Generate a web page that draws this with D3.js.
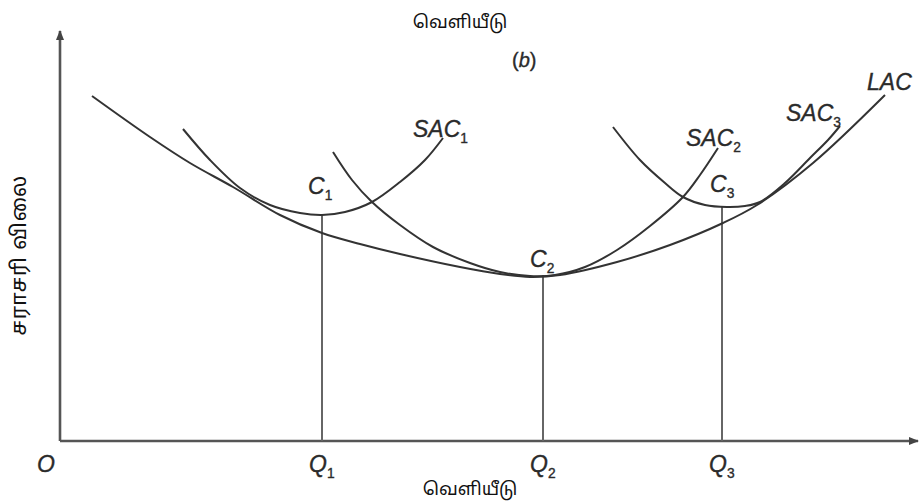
<!DOCTYPE html>
<html>
<head>
<meta charset="utf-8">
<script src="https://cdn.jsdelivr.net/npm/d3@7/dist/d3.min.js"></script>
<style>
html,body{margin:0;padding:0;background:#fff;}
svg{display:block;}
.lbl{font-family:"Liberation Sans",Arial,sans-serif;font-style:italic;fill:#2b2b2b;stroke:#2b2b2b;stroke-width:0.35;}
.ta{font-family:"Noto Sans Tamil","Lohit Tamil","Noto Sans",sans-serif;fill:#111;}
</style>
</head>
<body>
<script>
// Output (x) and average cost (y) in abstract units
const LAC  = [[3.2,34.5],[9.0,30.4],[13.0,27.8],[17.3,25.4],[22.0,22.6],[26.2,20.8],[30.0,19.7],[34.0,18.7],[40.0,17.4],[44.0,16.7],[47.0,16.4],[50.0,16.6],[55.7,17.9],[61.0,19.6],[66.3,21.8],[69.7,23.6],[75.3,27.8],[82.5,34.6]];
const SAC1 = [[12.3,31.2],[15.0,28.1],[18.0,25.3],[21.0,23.6],[24.0,22.8],[26.2,22.6],[28.5,22.9],[31.2,23.9],[34.0,25.9],[36.5,28.1],[38.3,30.3]];
const SAC2 = [[27.3,28.9],[29.2,26.1],[31.2,23.9],[34.0,21.6],[37.3,19.4],[41.0,17.8],[44.0,16.9],[47.0,16.5],[49.5,16.6],[52.5,17.4],[55.7,19.1],[59.0,21.5],[62.3,24.4],[64.0,26.6],[65.8,29.3]];
const SAC3 = [[55.3,31.4],[58.0,28.1],[60.5,25.8],[62.3,24.4],[64.5,23.6],[66.7,23.4],[68.5,23.5],[70.0,23.9],[72.5,25.8],[75.0,28.3],[76.8,30.1],[78.0,31.5]];
const qValues = [26.2, 48.3, 66.2];
const cValues = [22.6, 16.6, 23.4];
const qLabels = ["1","2","3"];
const curveLabels = ["SAC","SAC","SAC","LAC"];
const curveSubs = ["1","2","3",""];
const axisTitleX = "வெளியீடு";
const axisTitleY = "சராசரி  விலை";
const panelTag = "b";

const W = 922, H = 502;
const x = d3.scaleLinear().domain([0, 86]).range([60, 920]);
const y = d3.scaleLinear().domain([0, 41]).range([441, 31]);

const svg = d3.select("body").append("svg").attr("width", W).attr("height", H);

const defs = svg.append("defs");
defs.append("marker").attr("id","arr").attr("viewBox","0 0 10 10").attr("refX",9).attr("refY",5)
  .attr("markerWidth",4).attr("markerHeight",4).attr("orient","auto")
  .append("path").attr("d","M0,1 L10,5 L0,9 Z").attr("fill","#444");

// axes
svg.append("line").attr("x1",x(0)).attr("y1",y(0)).attr("x2",x(0)).attr("y2",y(41))
  .attr("stroke","#555").attr("stroke-width",2.6).attr("marker-end","url(#arr)");
svg.append("line").attr("x1",x(0)).attr("y1",y(0)).attr("x2",x(85.8)).attr("y2",y(0))
  .attr("stroke","#555").attr("stroke-width",2.6).attr("marker-end","url(#arr)");

// vertical drop lines
qValues.forEach((q,i)=>{
  svg.append("line").attr("x1",x(q)).attr("x2",x(q)).attr("y1",y(0)).attr("y2",y(cValues[i]))
    .attr("stroke","#666").attr("stroke-width",2);
});

const line = d3.line().x(d=>x(d[0])).y(d=>y(d[1])).curve(d3.curveCatmullRom.alpha(0.5));
[LAC,SAC1,SAC2,SAC3].forEach(s=>{
  svg.append("path").attr("d",line(s)).attr("fill","none").attr("stroke","#333").attr("stroke-width",2);
});

function subLabel(px, py, main, sub, size){
  const t = svg.append("text").attr("class","lbl").attr("x",px).attr("y",py).attr("font-size",size);
  t.append("tspan").text(main);
  if(sub) t.append("tspan").attr("font-size",size*0.6).attr("font-style","normal").attr("dy",size*0.28).text(sub);
  return t;
}

// curve labels
subLabel(413, 137, curveLabels[0], curveSubs[0], 23);
subLabel(686, 146, curveLabels[1], curveSubs[1], 23);
subLabel(786, 121, curveLabels[2], curveSubs[2], 23);
subLabel(867, 90, curveLabels[3], curveSubs[3], 23);

// C labels
const cOffsets = [[-14,-21],[-13,-8],[-12,-15]];
qValues.forEach((q,i)=>{
  subLabel(x(q)+cOffsets[i][0], y(cValues[i])+cOffsets[i][1], "C", qLabels[i], 23);
});
// Q labels
qValues.forEach((q,i)=>{
  subLabel(x(q)-13, 472, "Q", qLabels[i], 23);
});
subLabel(37, 472, "O", "", 23);

// panel tag
const pt = svg.append("text").attr("class","lbl").attr("x",512).attr("y",67).attr("font-size",20);
pt.append("tspan").attr("font-style","normal").text("(");
pt.append("tspan").text(panelTag);
pt.append("tspan").attr("font-style","normal").text(")");

// axis titles
svg.append("text").attr("class","ta").attr("x",460).attr("y",28).attr("text-anchor","middle").attr("font-size",18).text(axisTitleX);
svg.append("text").attr("class","ta").attr("x",470).attr("y",495).attr("text-anchor","middle").attr("font-size",18).text(axisTitleX);
svg.append("text").attr("class","ta").attr("transform","translate(26,255) rotate(-90)").attr("text-anchor","middle").attr("font-size",21).attr("letter-spacing",1).text(axisTitleY);
</script>
</body>
</html>
